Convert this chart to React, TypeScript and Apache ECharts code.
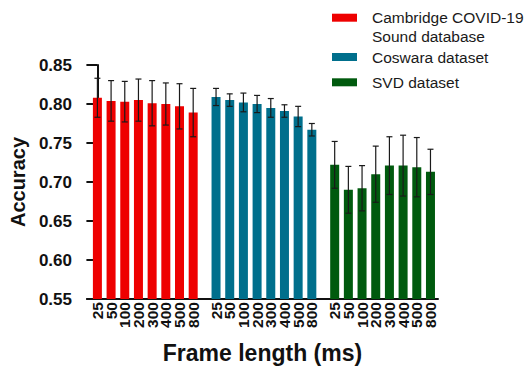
import React, { useEffect, useRef } from "react";
import * as echarts from "echarts";

const frameLabels = ["25", "50", "100", "200", "300", "400", "500", "800"];
const seriesNames = ["Cambridge COVID-19\nSound database", "Coswara dataset", "SVD dataset"];
const seriesColors = ["#EE0000", "#006F8C", "#005A0E"];

const cambridgeMean = [0.808, 0.804, 0.803, 0.805, 0.801, 0.800, 0.797, 0.789];
const cambridgeSd = [0.025, 0.026, 0.026, 0.027, 0.029, 0.027, 0.029, 0.031];
const coswaraMean = [0.809, 0.805, 0.802, 0.800, 0.795, 0.791, 0.784, 0.767];
const coswaraSd = [0.011, 0.008, 0.012, 0.011, 0.012, 0.008, 0.013, 0.008];
const svdMean = [0.722, 0.690, 0.692, 0.710, 0.721, 0.721, 0.719, 0.713];
const svdSd = [0.030, 0.030, 0.029, 0.036, 0.037, 0.039, 0.038, 0.029];

const yTicks = { min: 0.55, max: 0.85, interval: 0.05 };

const means = [cambridgeMean, coswaraMean, svdMean];
const sds = [cambridgeSd, coswaraSd, svdSd];
const GROUP_STEP = 8.67;
const X_MIN = -0.761;
const X_MAX = 24.89;

const FONT = "'Liberation Sans', Arial, Helvetica, sans-serif";

export default function App() {
  const ref = useRef<HTMLDivElement>(null);
  useEffect(() => {
    if (!ref.current) return;
    const chart = echarts.init(ref.current, undefined, { renderer: "svg" });

    const positions: number[] = [];
    means.forEach((m, g) => m.forEach((_, i) => positions.push(g * GROUP_STEP + i)));

    const barSeries = means.map((m, g) => ({
      type: "bar",
      name: seriesNames[g],
      barWidth: 9,
      barGap: "-100%",
      itemStyle: { color: seriesColors[g] },
      data: m.map((v, i) => [g * GROUP_STEP + i, v]),
      z: 2,
    }));

    const errData: number[][] = [];
    means.forEach((m, g) =>
      m.forEach((v, i) => errData.push([g * GROUP_STEP + i, v - sds[g][i], v + sds[g][i]]))
    );

    const legendCommon = {
      orient: "horizontal",
      left: 332,
      padding: 0,
      itemWidth: 25,
      itemHeight: 8,
      icon: "rect",
      selectedMode: false,
    };
    const legendText = {
      fontFamily: FONT,
      fontSize: 15.5,
      color: "#1a1a1a",
      lineHeight: 19,
      padding: [0, 0, 0, 10],
    };

    chart.setOption({
      animation: false,
      backgroundColor: "#fff",
      textStyle: { fontFamily: FONT },
      grid: { left: 84, right: 90, top: 65, bottom: 70 },
      legend: [
        {
          ...legendCommon,
          top: -10.8,
          data: [seriesNames[0]],
          // a blank first line keeps the first text line level with the swatch
          formatter: (name: string) => " \n" + name,
          textStyle: legendText,
        },
        {
          ...legendCommon,
          top: 47.5,
          data: [seriesNames[1]],
          textStyle: legendText,
        },
        {
          ...legendCommon,
          top: 72.8,
          data: [seriesNames[2]],
          textStyle: legendText,
        },
      ],
      xAxis: {
        type: "value",
        min: X_MIN,
        max: X_MAX,
        name: "Frame length (ms)",
        nameLocation: "middle",
        nameGap: 42,
        nameTextStyle: { fontFamily: FONT, fontSize: 23, fontWeight: "bold", color: "#111" },
        axisLine: { show: true, lineStyle: { color: "#111", width: 2 } },
        axisTick: { show: false },
        splitLine: { show: false },
        axisLabel: {
          customValues: [X_MIN, ...positions, X_MAX],
          hideOverlap: false,
          rotate: 90,
          margin: 3,
          lineHeight: 10,
          fontFamily: FONT,
          fontSize: 15.5,
          fontWeight: "bold",
          color: "#111",
          formatter: (v: number) => {
            let best = 0;
            positions.forEach((p, i) => {
              if (Math.abs(p - v) < Math.abs(positions[best] - v)) best = i;
            });
            if (Math.abs(positions[best] - v) > 0.3) return "";
            return frameLabels[best % frameLabels.length];
          },
        },
      },
      yAxis: {
        type: "value",
        min: yTicks.min,
        max: yTicks.max,
        interval: yTicks.interval,
        name: "Accuracy",
        nameLocation: "middle",
        nameGap: 55,
        nameTextStyle: { fontFamily: FONT, fontSize: 20, fontWeight: "bold", color: "#111" },
        axisLine: { show: true, lineStyle: { color: "#111", width: 2 } },
        axisTick: { show: true, length: 11, lineStyle: { color: "#111", width: 2 } },
        splitLine: { show: false },
        axisLabel: {
          margin: 15,
          fontFamily: FONT,
          fontSize: 17,
          fontWeight: "bold",
          color: "#111",
          formatter: (v: number) => v.toFixed(2),
        },
      },
      series: [
        ...barSeries,
        {
          type: "custom",
          name: "error",
          silent: true,
          z: 5,
          data: errData,
          encode: { x: 0, y: [1, 2] },
          renderItem: (params: any, api: any) => {
            const x = api.value(0);
            const lo = api.value(1);
            const hi = api.value(2);
            const top = api.coord([x, hi]);
            const bot = api.coord([x, lo]);
            const hw = 3;
            const style = { stroke: "#1a1a1a", lineWidth: 1.2 };
            return {
              type: "group",
              children: [
                { type: "line", shape: { x1: top[0], y1: top[1], x2: bot[0], y2: bot[1] }, style },
                { type: "line", shape: { x1: top[0] - hw, y1: top[1], x2: top[0] + hw, y2: top[1] }, style },
                { type: "line", shape: { x1: bot[0] - hw, y1: bot[1], x2: bot[0] + hw, y2: bot[1] }, style },
              ],
            };
          },
        },
      ],
    });
    return () => chart.dispose();
  }, []);
  return (
    <div
      ref={ref}
      style={{ position: "fixed", left: 0, top: 0, width: 528, height: 369, background: "#fff" }}
    />
  );
}
